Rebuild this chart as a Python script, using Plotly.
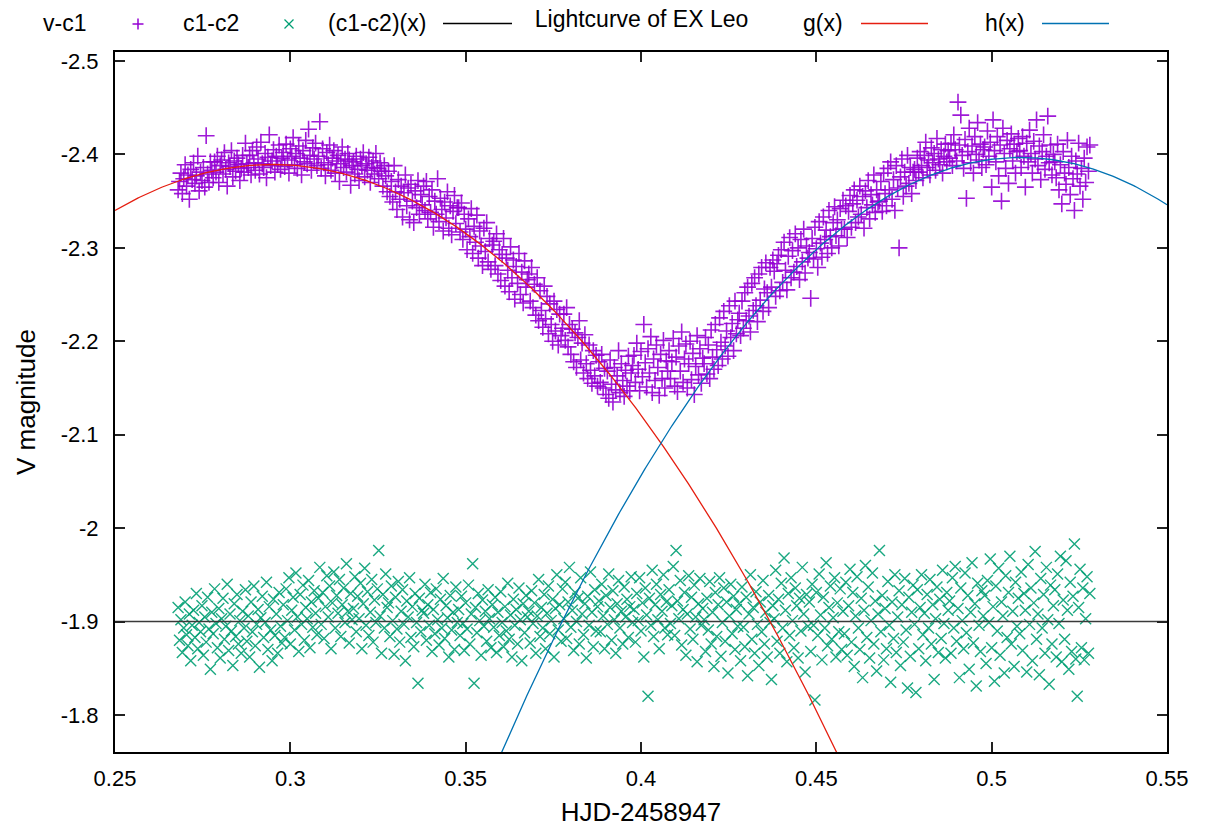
import numpy as np
import plotly.graph_objects as go

# ---------------- data ----------------
t_start = 0.268      # HJD-2458947 of first frame
cadence = 0.0004     # days between frames

v_c1 = [
-2.362,-2.371,-2.380,-2.358,-2.374,-2.389,-2.366,-2.378,-2.352,-2.384,-2.373,-2.391,-2.369,-2.377,-2.398,-2.361,-2.381,-2.372,-2.386,-2.365,-2.420,-2.379,-2.370,-2.392,-2.383,
-2.375,-2.392,-2.381,-2.398,-2.370,-2.388,-2.394,-2.379,-2.402,-2.384,-2.366,-2.391,-2.387,-2.404,-2.376,-2.393,-2.382,-2.396,-2.389,-2.372,-2.385,-2.399,-2.381,-2.412,-2.390,
-2.386,-2.399,-2.378,-2.404,-2.391,-2.383,-2.408,-2.395,-2.379,-2.413,-2.390,-2.386,-2.401,-2.375,-2.397,-2.421,-2.388,-2.393,-2.405,-2.381,-2.398,-2.389,-2.410,-2.384,-2.396,
-2.402,-2.387,-2.411,-2.394,-2.380,-2.406,-2.398,-2.418,-2.389,-2.401,-2.385,-2.409,-2.396,-2.378,-2.404,-2.392,-2.415,-2.390,-2.427,-2.399,-2.383,-2.407,-2.395,-2.412,-2.388,
-2.398,-2.435,-2.385,-2.406,-2.391,-2.377,-2.402,-2.389,-2.410,-2.383,-2.396,-2.404,-2.380,-2.393,-2.399,-2.371,-2.390,-2.408,-2.386,-2.395,-2.381,-2.401,-2.394,-2.367,-2.388,
-2.392,-2.379,-2.398,-2.384,-2.372,-2.395,-2.388,-2.402,-2.376,-2.390,-2.383,-2.397,-2.370,-2.386,-2.393,-2.379,-2.401,-2.385,-2.374,-2.391,-2.382,-2.366,-2.388,-2.377,-2.360,
-2.382,-2.355,-2.371,-2.349,-2.388,-2.360,-2.341,-2.373,-2.352,-2.366,-2.333,-2.359,-2.378,-2.345,-2.364,-2.330,-2.368,-2.350,-2.327,-2.361,-2.343,-2.372,-2.336,-2.357,-2.346,
-2.366,-2.340,-2.371,-2.331,-2.355,-2.338,-2.362,-2.322,-2.350,-2.336,-2.374,-2.328,-2.353,-2.341,-2.318,-2.349,-2.332,-2.360,-2.321,-2.345,-2.314,-2.339,-2.356,-2.326,-2.343,
-2.343,-2.317,-2.348,-2.309,-2.336,-2.320,-2.298,-2.331,-2.312,-2.342,-2.294,-2.323,-2.306,-2.335,-2.289,-2.318,-2.302,-2.281,-2.321,-2.296,-2.327,-2.285,-2.310,-2.277,-2.303,
-2.307,-2.281,-2.315,-2.272,-2.298,-2.265,-2.293,-2.310,-2.259,-2.289,-2.276,-2.253,-2.301,-2.268,-2.287,-2.245,-2.280,-2.262,-2.294,-2.250,-2.274,-2.241,-2.286,-2.258,-2.266,
-2.272,-2.243,-2.279,-2.236,-2.261,-2.228,-2.268,-2.222,-2.254,-2.233,-2.215,-2.259,-2.224,-2.248,-2.208,-2.240,-2.218,-2.200,-2.243,-2.211,-2.234,-2.196,-2.229,-2.206,-2.214,
-2.229,-2.201,-2.236,-2.194,-2.218,-2.186,-2.213,-2.178,-2.209,-2.172,-2.204,-2.222,-2.180,-2.198,-2.166,-2.207,-2.176,-2.160,-2.196,-2.169,-2.155,-2.190,-2.163,-2.185,-2.152,
-2.178,-2.156,-2.186,-2.150,-2.171,-2.143,-2.168,-2.139,-2.180,-2.154,-2.135,-2.172,-2.148,-2.163,-2.190,-2.145,-2.176,-2.158,-2.141,-2.169,-2.152,-2.184,-2.147,-2.166,-2.174,
-2.185,-2.156,-2.198,-2.170,-2.147,-2.189,-2.162,-2.218,-2.177,-2.151,-2.192,-2.166,-2.205,-2.145,-2.181,-2.158,-2.196,-2.172,-2.142,-2.186,-2.160,-2.201,-2.150,-2.179,-2.168,
-2.190,-2.160,-2.178,-2.203,-2.152,-2.183,-2.146,-2.195,-2.168,-2.210,-2.156,-2.181,-2.197,-2.150,-2.176,-2.200,-2.159,-2.187,-2.143,-2.173,-2.206,-2.164,-2.192,-2.155,-2.182,
-2.176,-2.204,-2.165,-2.196,-2.160,-2.212,-2.183,-2.170,-2.218,-2.191,-2.174,-2.225,-2.199,-2.181,-2.232,-2.195,-2.211,-2.184,-2.238,-2.204,-2.219,-2.190,-2.243,-2.208,-2.223,
-2.230,-2.206,-2.243,-2.214,-2.252,-2.222,-2.258,-2.227,-2.210,-2.262,-2.233,-2.268,-2.238,-2.221,-2.272,-2.244,-2.279,-2.232,-2.256,-2.284,-2.252,-2.236,-2.279,-2.258,-2.287,
-2.275,-2.248,-2.283,-2.292,-2.254,-2.298,-2.263,-2.306,-2.276,-2.255,-2.291,-2.311,-2.268,-2.297,-2.274,-2.315,-2.280,-2.300,-2.266,-2.309,-2.285,-2.320,-2.273,-2.302,-2.289,
-2.295,-2.246,-2.310,-2.288,-2.322,-2.299,-2.279,-2.328,-2.305,-2.290,-2.333,-2.309,-2.319,-2.294,-2.340,-2.312,-2.300,-2.327,-2.344,-2.313,-2.330,-2.302,-2.342,-2.320,-2.351,
-2.320,-2.345,-2.311,-2.339,-2.356,-2.322,-2.347,-2.362,-2.327,-2.351,-2.333,-2.366,-2.336,-2.355,-2.321,-2.361,-2.343,-2.372,-2.331,-2.357,-2.346,-2.378,-2.338,-2.362,-2.349,
-2.350,-2.371,-2.339,-2.380,-2.358,-2.345,-2.385,-2.362,-2.392,-2.352,-2.373,-2.340,-2.388,-2.364,-2.300,-2.376,-2.395,-2.355,-2.381,-2.366,-2.399,-2.369,-2.386,-2.358,-2.381,
-2.384,-2.372,-2.396,-2.381,-2.403,-2.388,-2.375,-2.399,-2.413,-2.386,-2.394,-2.378,-2.407,-2.391,-2.401,-2.383,-2.417,-2.395,-2.389,-2.405,-2.380,-2.398,-2.411,-2.392,-2.404,
-2.396,-2.412,-2.388,-2.421,-2.405,-2.393,-2.456,-2.410,-2.442,-2.399,-2.385,-2.416,-2.353,-2.403,-2.428,-2.391,-2.409,-2.380,-2.419,-2.400,-2.434,-2.394,-2.411,-2.386,-2.405,
-2.408,-2.389,-2.425,-2.398,-2.413,-2.365,-2.437,-2.404,-2.392,-2.419,-2.377,-2.410,-2.350,-2.428,-2.401,-2.385,-2.415,-2.369,-2.406,-2.422,-2.393,-2.411,-2.380,-2.403,-2.417,
-2.404,-2.386,-2.419,-2.398,-2.365,-2.412,-2.392,-2.426,-2.401,-2.380,-2.414,-2.395,-2.437,-2.388,-2.409,-2.373,-2.403,-2.421,-2.384,-2.398,-2.441,-2.391,-2.410,-2.378,-2.400,
-2.392,-2.375,-2.411,-2.362,-2.389,-2.347,-2.403,-2.380,-2.368,-2.415,-2.386,-2.357,-2.398,-2.374,-2.340,-2.393,-2.379,-2.412,-2.366,-2.385,-2.352,-2.396,-2.370,-2.408,-2.382,
-2.410,
]

c1_c2 = [
-1.915,-1.880,-1.902,-1.867,-1.893,-1.921,-1.886,-1.874,-1.908,-1.858,-1.896,-1.912,-1.883,-1.930,-1.871,-1.899,-1.889,-1.917,-1.864,-1.905,-1.878,-1.926,-1.892,-1.849,-1.910,
-1.887,-1.935,-1.898,-1.872,-1.914,-1.861,-1.903,-1.925,-1.881,-1.895,-1.940,-1.869,-1.908,-1.890,-1.853,-1.919,-1.884,-1.929,-1.876,-1.901,-1.866,-1.911,-1.893,-1.934,-1.879,
-1.906,-1.862,-1.921,-1.889,-1.938,-1.874,-1.897,-1.913,-1.851,-1.904,-1.927,-1.883,-1.899,-1.942,-1.870,-1.916,-1.891,-1.858,-1.924,-1.885,-1.908,-1.866,-1.931,-1.895,-1.877,
-1.918,-1.883,-1.935,-1.901,-1.947,-1.876,-1.912,-1.926,-1.891,-1.952,-1.905,-1.868,-1.929,-1.897,-1.939,-1.880,-1.915,-1.903,-1.944,-1.872,-1.921,-1.894,-1.933,-1.909,-1.886,
-1.925,-1.958,-1.897,-1.931,-1.882,-1.916,-1.949,-1.905,-1.938,-1.871,-1.920,-1.953,-1.893,-1.928,-1.909,-1.945,-1.884,-1.918,-1.936,-1.899,-1.962,-1.911,-1.877,-1.930,-1.902,
-1.914,-1.948,-1.889,-1.927,-1.903,-1.941,-1.871,-1.919,-1.957,-1.896,-1.932,-1.885,-1.910,-1.945,-1.878,-1.923,-1.899,-1.935,-1.976,-1.906,-1.866,-1.929,-1.893,-1.951,-1.915,
-1.920,-1.884,-1.938,-1.901,-1.865,-1.926,-1.892,-1.943,-1.878,-1.911,-1.934,-1.897,-1.858,-1.922,-1.905,-1.947,-1.883,-1.916,-1.873,-1.930,-1.899,-1.834,-1.925,-1.889,-1.912,
-1.909,-1.940,-1.880,-1.918,-1.896,-1.931,-1.868,-1.913,-1.887,-1.935,-1.902,-1.875,-1.924,-1.893,-1.946,-1.882,-1.917,-1.904,-1.862,-1.928,-1.891,-1.910,-1.870,-1.937,-1.899,
-1.913,-1.885,-1.927,-1.898,-1.869,-1.920,-1.892,-1.939,-1.876,-1.908,-1.962,-1.834,-1.915,-1.888,-1.930,-1.901,-1.864,-1.923,-1.895,-1.911,-1.879,-1.934,-1.903,-1.872,-1.918,
-1.894,-1.926,-1.867,-1.910,-1.885,-1.932,-1.899,-1.873,-1.916,-1.890,-1.941,-1.881,-1.907,-1.862,-1.924,-1.896,-1.913,-1.876,-1.936,-1.902,-1.858,-1.919,-1.888,-1.928,-1.905,
-1.911,-1.877,-1.933,-1.898,-1.920,-1.866,-1.906,-1.945,-1.884,-1.915,-1.893,-1.929,-1.871,-1.909,-1.938,-1.887,-1.901,-1.924,-1.862,-1.914,-1.950,-1.891,-1.918,-1.879,-1.935,
-1.903,-1.942,-1.882,-1.921,-1.958,-1.894,-1.912,-1.869,-1.931,-1.900,-1.925,-1.876,-1.947,-1.908,-1.886,-1.919,-1.861,-1.927,-1.896,-1.953,-1.910,-1.873,-1.934,-1.890,-1.916,
-1.922,-1.889,-1.940,-1.906,-1.871,-1.928,-1.897,-1.951,-1.915,-1.880,-1.933,-1.902,-1.866,-1.919,-1.944,-1.893,-1.911,-1.876,-1.937,-1.905,-1.924,-1.883,-1.916,-1.948,-1.899,
-1.913,-1.878,-1.930,-1.901,-1.947,-1.890,-1.920,-1.862,-1.936,-1.907,-1.820,-1.925,-1.896,-1.955,-1.884,-1.918,-1.940,-1.902,-1.871,-1.929,-1.911,-1.950,-1.893,-1.921,-1.886,
-1.934,-1.898,-1.917,-1.959,-1.885,-1.976,-1.922,-1.903,-1.944,-1.875,-1.913,-1.931,-1.864,-1.908,-1.949,-1.892,-1.926,-1.881,-1.939,-1.905,-1.857,-1.919,-1.946,-1.896,-1.914,
-1.902,-1.868,-1.925,-1.891,-1.943,-1.876,-1.910,-1.852,-1.931,-1.884,-1.918,-1.947,-1.863,-1.899,-1.936,-1.879,-1.921,-1.845,-1.906,-1.940,-1.887,-1.927,-1.870,-1.913,-1.895,
-1.919,-1.858,-1.937,-1.894,-1.873,-1.926,-1.842,-1.908,-1.950,-1.881,-1.915,-1.866,-1.932,-1.897,-1.853,-1.921,-1.889,-1.944,-1.876,-1.910,-1.862,-1.928,-1.899,-1.838,-1.917,
-1.903,-1.955,-1.879,-1.924,-1.866,-1.941,-1.893,-1.968,-1.912,-1.857,-1.930,-1.885,-1.947,-1.901,-1.872,-1.936,-1.917,-1.861,-1.925,-1.890,-1.958,-1.908,-1.846,-1.929,-1.895,
-1.921,-1.868,-1.940,-1.896,-1.816,-1.931,-1.885,-1.951,-1.907,-1.859,-1.926,-1.893,-1.963,-1.874,-1.915,-1.938,-1.881,-1.904,-1.947,-1.862,-1.920,-1.889,-1.935,-1.870,-1.911,
-1.887,-1.942,-1.864,-1.917,-1.956,-1.878,-1.931,-1.852,-1.906,-1.948,-1.893,-1.870,-1.925,-1.840,-1.912,-1.960,-1.883,-1.937,-1.861,-1.901,-1.952,-1.876,-1.922,-1.847,-1.908,
-1.976,-1.889,-1.928,-1.859,-1.914,-1.871,-1.943,-1.896,-1.835,-1.921,-1.882,-1.950,-1.867,-1.905,-1.933,-1.853,-1.918,-1.878,-1.946,-1.891,-1.829,-1.926,-1.863,-1.910,-1.939,
-1.897,-1.824,-1.934,-1.871,-1.915,-1.950,-1.886,-1.909,-1.858,-1.929,-1.893,-1.945,-1.876,-1.918,-1.838,-1.903,-1.937,-1.867,-1.924,-1.882,-1.955,-1.898,-1.861,-1.931,-1.912,
-1.922,-1.866,-1.947,-1.893,-1.959,-1.879,-1.914,-1.840,-1.936,-1.901,-1.871,-1.952,-1.888,-1.928,-1.849,-1.910,-1.963,-1.877,-1.919,-1.831,-1.941,-1.896,-1.868,-1.933,-1.906,
-1.928,-1.855,-1.944,-1.899,-1.967,-1.872,-1.916,-1.836,-1.938,-1.890,-1.957,-1.864,-1.921,-1.906,-1.845,-1.949,-1.883,-1.931,-1.970,-1.876,-1.911,-1.852,-1.942,-1.895,-1.925,
-1.887,-1.953,-1.869,-1.930,-1.912,-1.846,-1.961,-1.897,-1.936,-1.858,-1.920,-1.975,-1.881,-1.908,-1.843,-1.946,-1.893,-1.929,-1.866,-1.958,-1.902,-1.833,-1.939,-1.876,-1.917,
-1.934,-1.862,-1.951,-1.898,-1.970,-1.857,-1.923,-1.881,-1.965,-1.912,-1.849,-1.942,-1.868,-1.927,-1.983,-1.860,-1.820,-1.915,-1.956,-1.872,-1.936,-1.859,-1.903,-1.948,-1.866,
-1.930,
]

# fitted functions: quadratic polynomials in (x - centre)
g_centre, g_coef = 0.35, [-2.3156, 2.676, 24.32]
h_centre, h_coef = 0.45, [-2.2982, -3.385, 29.06]
cc_const = -1.9          # (c1-c2)(x) = constant fit

x_ticks = [0.25, 0.30, 0.35, 0.40, 0.45, 0.50, 0.55]
x_ticktext = ["0.25", "0.3", "0.35", "0.4", "0.45", "0.5", "0.55"]
y_ticks = [-2.5, -2.4, -2.3, -2.2, -2.1, -2.0, -1.9, -1.8]
y_ticktext = ["-2.5", "-2.4", "-2.3", "-2.2", "-2.1", "-2", "-1.9", "-1.8"]

# ---------------- geometry ----------------
W, H = 1207, 827
L, R, T, B = 115, 1167, 52, 752
XR = [0.25, 0.55]
YR = [-1.7604, -2.5096]   # reversed (magnitudes)

def pxp(px):
    return (px - L) / (R - L)

def pyp(py):
    return (B - py) / (B - T)

PURPLE = "#9400d3"
GREEN = "#009e73"
RED = "#e51e10"
BLUE = "#0072b2"
FONT = "Liberation Sans, Arial, sans-serif"

t_v = [t_start + cadence * i for i in range(len(v_c1))]
t_c = [t_start + cadence * i for i in range(len(c1_c2))]

xf = np.linspace(XR[0], XR[1], 601)
def poly(x, c0, coef):
    u = x - c0
    return coef[0] + coef[1] * u + coef[2] * u * u

fig = go.Figure()
fig.add_trace(go.Scatter(x=t_v, y=v_c1, mode="markers", name="v-c1",
                         marker=dict(symbol="cross-thin-open", size=12, color=PURPLE, opacity=0.9,
                                     line=dict(color=PURPLE, width=1.6))))
fig.add_trace(go.Scatter(x=t_c, y=c1_c2, mode="markers", name="c1-c2",
                         marker=dict(symbol="x-thin-open", size=11, color=GREEN, opacity=0.9,
                                     line=dict(color=GREEN, width=1.4))))
fig.add_trace(go.Scatter(x=XR, y=[cc_const, cc_const], mode="lines",
                         line=dict(color="#3a3a3a", width=1.5), name="(c1-c2)(x)"))
fig.add_trace(go.Scatter(x=xf, y=poly(xf, g_centre, g_coef), mode="lines",
                         line=dict(color=RED, width=1.3), name="g(x)"))
fig.add_trace(go.Scatter(x=xf, y=poly(xf, h_centre, h_coef), mode="lines",
                         line=dict(color=BLUE, width=1.3), name="h(x)"))

# key (gnuplot style: text, then sample)
key_font = dict(family=FONT, size=23, color="black")
annotations = []
for text, right in [("v-c1", 88), ("c1-c2", 241), ("(c1-c2)(x)", 428), ("g(x)", 845), ("h(x)", 1027)]:
    annotations.append(dict(text=text, xref="paper", yref="paper", x=pxp(right), y=pyp(23),
                            xanchor="right", yanchor="middle", showarrow=False, font=key_font))

shapes = []
ky = 23.5
for x0, x1, col in [(443, 512, "black"), (861, 928, RED), (1042, 1109, BLUE)]:
    shapes.append(dict(type="line", xref="paper", yref="paper", x0=pxp(x0), x1=pxp(x1),
                       y0=pyp(ky), y1=pyp(ky), line=dict(color=col, width=1.3)))
# '+' key glyph
cx, a = 138, 5.5
shapes.append(dict(type="line", xref="paper", yref="paper", x0=pxp(cx - a), x1=pxp(cx + a),
                   y0=pyp(24), y1=pyp(24), line=dict(color=PURPLE, width=1.5)))
shapes.append(dict(type="line", xref="paper", yref="paper", x0=pxp(cx), x1=pxp(cx),
                   y0=pyp(24 - a), y1=pyp(24 + a), line=dict(color=PURPLE, width=1.5)))
# 'x' key glyph
cx, a = 289, 4.5
shapes.append(dict(type="line", xref="paper", yref="paper", x0=pxp(cx - a), x1=pxp(cx + a),
                   y0=pyp(24 - a), y1=pyp(24 + a), line=dict(color=GREEN, width=1.3)))
shapes.append(dict(type="line", xref="paper", yref="paper", x0=pxp(cx - a), x1=pxp(cx + a),
                   y0=pyp(24 + a), y1=pyp(24 - a), line=dict(color=GREEN, width=1.3)))

axis_common = dict(showgrid=False, zeroline=False, showline=True, linewidth=2, linecolor="black",
                   mirror="ticks", ticks="inside", ticklen=10, tickwidth=1.5, tickcolor="#222",
                   tickfont=dict(family=FONT, size=22, color="black"))

fig.update_layout(
    width=W, height=H,
    margin=dict(l=L, r=W - R, t=T, b=H - B, autoexpand=False),
    plot_bgcolor="white", paper_bgcolor="white",
    showlegend=False,
    font=dict(family=FONT, size=22, color="black"),
    title=dict(text="Lightcurve of EX Leo", x=pxp(641.5), xref="paper", xanchor="center",
               y=1 - 19 / H, yref="container", yanchor="middle",
               font=dict(family=FONT, size=23, color="black")),
    xaxis=dict(range=XR, tickvals=x_ticks, ticktext=x_ticktext,
               title=dict(text="HJD-2458947", standoff=12), ticklabelstandoff=6, **axis_common),
    yaxis=dict(range=YR, tickvals=y_ticks, ticktext=y_ticktext,
               title=dict(text="V magnitude", standoff=18), ticklabelstandoff=10, **axis_common),
    annotations=annotations,
    shapes=shapes,
)

fig.write_html("out.html")
